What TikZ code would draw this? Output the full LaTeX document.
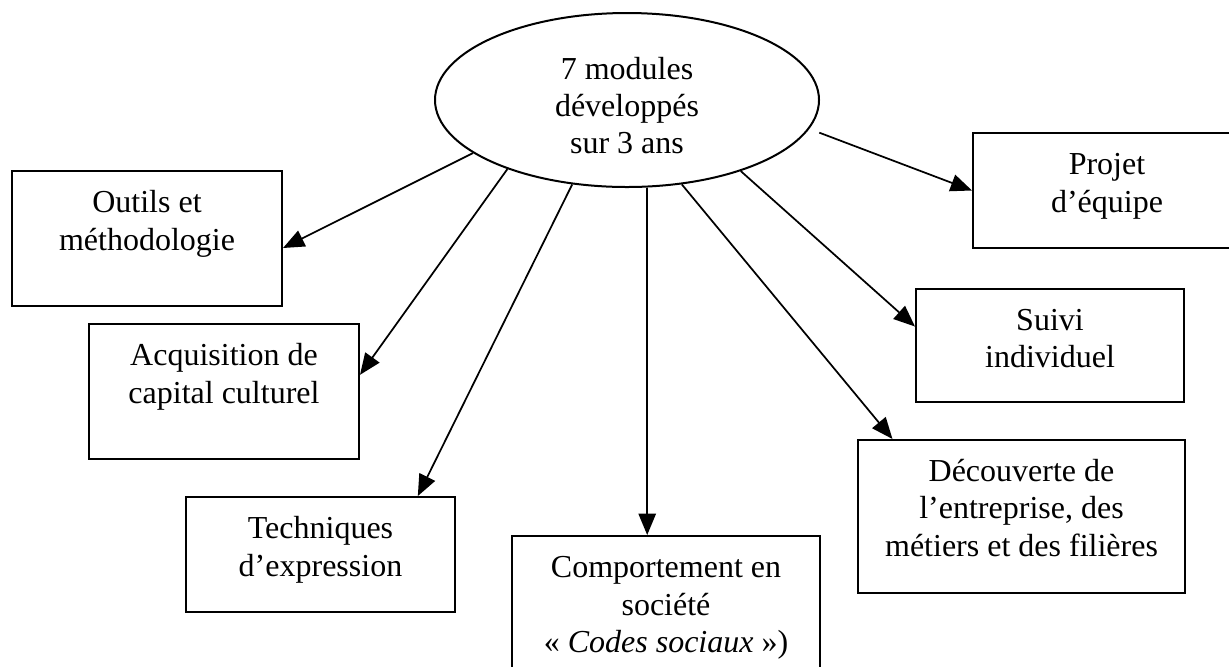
\documentclass[tikz,border=0pt]{standalone}
\usepackage{fontspec}
\setmainfont{Liberation Serif}
\usetikzlibrary{shapes.geometric,arrows.meta}

\newcommand{\boxtext}[3]{\parbox[t][#2][t]{#1}{\centering\strut #3}}

\tikzstyle{hub} = [ellipse,draw,line width=0.75pt,minimum width=144pt,minimum height=65.25pt,inner sep=0pt,align=center]
\tikzstyle{module} = [rectangle,draw,line width=0.75pt,inner sep=6pt]
\tikzstyle{link} = [-{Triangle[length=8pt,width=6.5pt]},line width=0.65pt]

\begin{document}
\begin{tikzpicture}[x=0.375pt,y=-0.375pt,font=\fontsize{12pt}{13.9pt}\selectfont]
	\useasboundingbox (0,0) rectangle (1229,666);

	\node[hub] (hub) at (627,100) {\rule{0pt}{12.6pt}7 modules\\développés\\sur 3 ans};

	\node[module] (outils) at (147,238.5) {\boxtext{89.25pt}{38.6pt}{Outils et\\méthodologie}};
	\node[module] (culture) at (224,391.5) {\boxtext{89.25pt}{38.6pt}{Acquisition de\\capital culturel}};
	\node[module] (expression) at (320.5,554.5) {\boxtext{88.9pt}{31.1pt}{Techniques\\d’expression}};
	\node[module] (societe) at (666,611) {\boxtext{103.5pt}{44.25pt}{Comportement en\\société\\« \textit{Codes sociaux} »)}};
	\node[module] (entreprise) at (1021.5,516.5) {\boxtext{110.6pt}{45.4pt}{Découverte de\\l’entreprise, des\\métiers et des filières}};
	\node[module] (suivi) at (1050,345.5) {\boxtext{88.5pt}{30.4pt}{Suivi\\individuel}};
	\node[module] (projet) at (1107,190.5) {\boxtext{88.5pt}{31.1pt}{Projet\\d’équipe}};

	\draw[link] (hub.199) -- (outils.-4);
	\draw[link] (hub.210) -- (culture.7);
	\draw[link] (hub.237) -- (expression.31);
	\draw[link] (hub.-77) -- (hub.-77 |- societe.north);
	\draw[link] (hub.-57) -- (entreprise.149);
	\draw[link] (hub.-32) -- (suivi.172);
	\draw[link,shorten <=4pt] (hub.-9) -- (projet.west);
\end{tikzpicture}
\end{document}
